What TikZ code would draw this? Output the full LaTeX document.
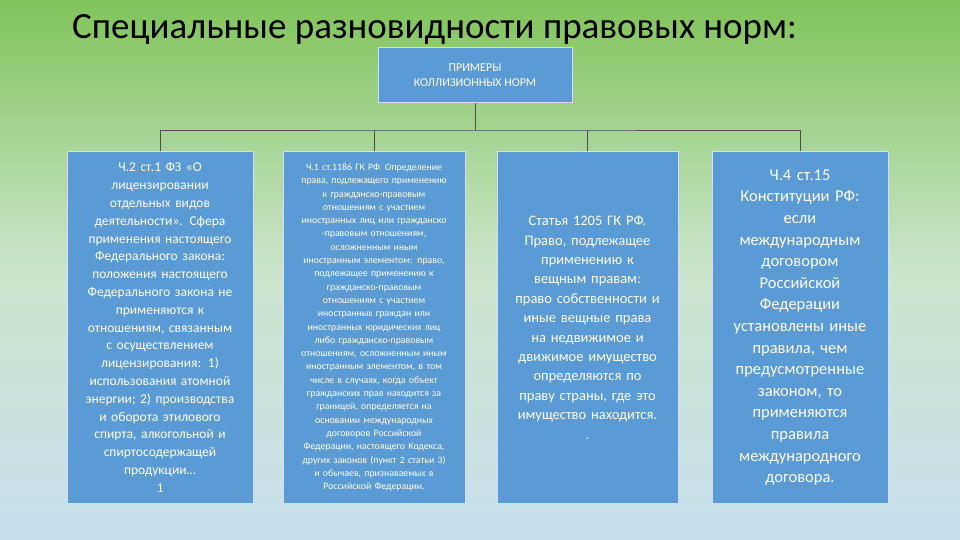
\documentclass[tikz,border=0pt]{standalone}
\usepackage{fontspec}
\setmainfont{Carlito}
\begin{document}
\begin{tikzpicture}[x=1pt,y=-1pt,
 box/.style={draw=white!85!blue,line width=1pt,fill=boxblue,text=white,align=center,inner sep=2pt},
 conn/.style={draw=black!70,line width=0.6pt}]
\definecolor{boxblue}{RGB}{91,155,213}
\definecolor{topg}{RGB}{128,196,90}
\definecolor{botb}{RGB}{200,224,238}
\shade[top color=topg,bottom color=botb,middle color=white!60!topg!70!botb] (0,0) rectangle (960,540);
\useasboundingbox (0,0) rectangle (960,540);
\node[anchor=west,font=\fontsize{37}{40}\selectfont,inner sep=0pt] (title) at (72,30) {Специальные разновидности правовых норм:};
\node[box,minimum width=194pt,minimum height=55pt,font=\fontsize{12}{15}\selectfont] (top) at (475,75.5) {ПРИМЕРЫ\\КОЛЛИЗИОННЫХ НОРМ};
\node[box,minimum width=186pt,minimum height=351pt,text width=180pt,font=\fontsize{13.5}{17.8}\selectfont] (b1) at (160,327.5) {Ч.2 ст.1 ФЗ «О\\лицензировании\\отдельных видов\\деятельности». Сфера\\применения настоящего\\Федерального закона:\\положения настоящего\\Федерального закона не\\применяются к\\отношениям, связанным\\с осуществлением\\лицензирования: 1)\\использования атомной\\энергии; 2) производства\\и оборота этилового\\спирта, алкогольной и\\спиртосодержащей\\продукции…\\1};
\node[box,minimum width=182pt,minimum height=351pt,text width=178pt,font=\fontsize{9.8}{13.3}\selectfont] (b2) at (374,327.5) {Ч.1 ст.1186 ГК РФ. Определение\\права, подлежащего применению\\к гражданско-правовым\\отношениям с участием\\иностранных лиц или гражданско\\-правовым отношениям,\\осложненным иным\\иностранным элементом: право,\\подлежащее применению к\\гражданско-правовым\\отношениям с участием\\иностранных граждан или\\иностранных юридических лиц\\либо гражданско-правовым\\отношениям, осложненным иным\\иностранным элементом, в том\\числе в случаях, когда объект\\гражданских прав находится за\\границей, определяется на\\основании международных\\договоров Российской\\Федерации, настоящего Кодекса,\\других законов (пункт 2 статьи 3)\\и обычаев, признаваемых в\\Российской Федерации.};
\node[box,minimum width=181pt,minimum height=351pt,text width=177pt,font=\fontsize{14.5}{19.4}\selectfont] (b3) at (587.5,327.5) {Статья 1205 ГК РФ.\\Право, подлежащее\\применению к\\вещным правам:\\право собственности и\\иные вещные права\\на недвижимое и\\движимое имущество\\определяются по\\праву страны, где это\\имущество находится.\\.};
\node[box,minimum width=176pt,minimum height=351pt,text width=172pt,font=\fontsize{16.5}{21.6}\selectfont] (b4) at (800,327.5) {Ч.4 ст.15\\Конституции РФ:\\если\\международным\\договором\\Российской\\Федерации\\установлены иные\\правила, чем\\предусмотренные\\законом, то\\применяются\\правила\\международного\\договора.};
\coordinate (j) at (475,130);
\draw[conn] (top.south) -- (j);
\draw[conn] (b1.north) |- (j) -| (b4.north);
\draw[conn] (b2.north) -- (b2.north |- j);
\draw[conn] (b3.north) -- (b3.north |- j);
\end{tikzpicture}
\end{document}
